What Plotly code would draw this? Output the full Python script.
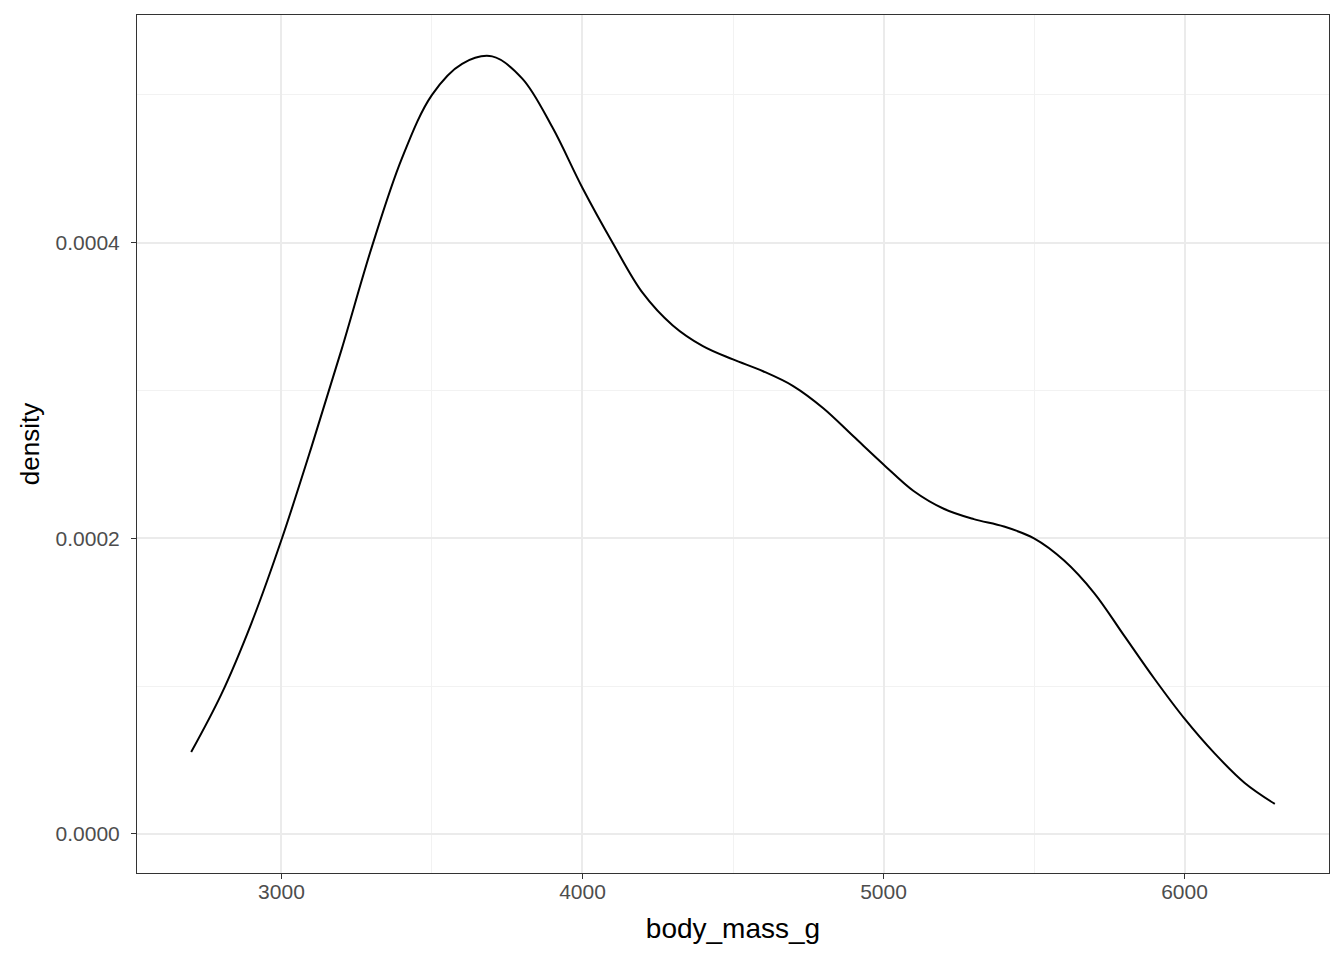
import plotly.graph_objects as go

body_mass_g = [2700, 2800, 2900, 3000, 3100, 3200, 3300, 3400, 3500, 3600, 3700, 3800,
               3900, 4000, 4100, 4200, 4300, 4400, 4500, 4600, 4700, 4800, 4900, 5000,
               5100, 5200, 5300, 5400, 5500, 5600, 5700, 5800, 5900, 6000, 6100, 6200,
               6300]
density = [0.0000554, 0.0000944, 0.0001425, 0.000199, 0.000262, 0.000328, 0.000397,
           0.000457, 0.000500, 0.000521, 0.000526, 0.000511, 0.000478, 0.000437,
           0.000400, 0.000366, 0.000344, 0.000330, 0.000321, 0.000313, 0.000303,
           0.000288, 0.000269, 0.000250, 0.000232, 0.000220, 0.000213, 0.000208,
           0.000200, 0.000185, 0.000163, 0.000134, 0.000105, 0.000078, 0.0000545,
           0.0000345, 0.0000203]

x_ticks = [3000, 4000, 5000, 6000]
y_ticks = [0.0, 0.0002, 0.0004]
y_tick_text = ["0.0000", "0.0002", "0.0004"]

fig = go.Figure()
fig.add_trace(go.Scatter(x=body_mass_g, y=density, mode="lines",
                         line=dict(color="black", width=2, shape="spline", smoothing=1.0),
                         showlegend=False, hoverinfo="skip"))

font_family = "Liberation Sans, Arial, sans-serif"
axis_common = dict(
    showgrid=True, gridcolor="#EBEBEB", gridwidth=1.6,
    showline=True, linecolor="#333333", linewidth=1, mirror=True,
    ticks="outside", ticklen=5, tickcolor="#333333", tickwidth=1,
    zeroline=False,
    tickfont=dict(family=font_family, size=21, color="#4D4D4D"),
)

fig.update_layout(
    width=1336, height=952,
    margin=dict(l=129, r=15, t=7, b=87),
    plot_bgcolor="white", paper_bgcolor="white",
    xaxis=dict(range=[2520, 6480], tickvals=x_ticks, ticktext=[str(v) for v in x_ticks],
               ticklabelstandoff=-5,
               title=dict(text="body_mass_g", standoff=16,
                          font=dict(family=font_family, size=28, color="black")),
               minor=dict(tickvals=[3500, 4500, 5500], showgrid=True, gridcolor="#F2F2F2",
                          gridwidth=1, ticks=""),
               **axis_common),
    yaxis=dict(range=[-0.0000264, 0.000554], tickvals=y_ticks, ticktext=y_tick_text,
               ticklabelstandoff=7,
               title=dict(text="density", standoff=8,
                          font=dict(family=font_family, size=26, color="black")),
               minor=dict(tickvals=[0.0001, 0.0003, 0.0005], showgrid=True, gridcolor="#F2F2F2",
                          gridwidth=1, ticks=""),
               **axis_common),
)

fig.write_html("out.html")
